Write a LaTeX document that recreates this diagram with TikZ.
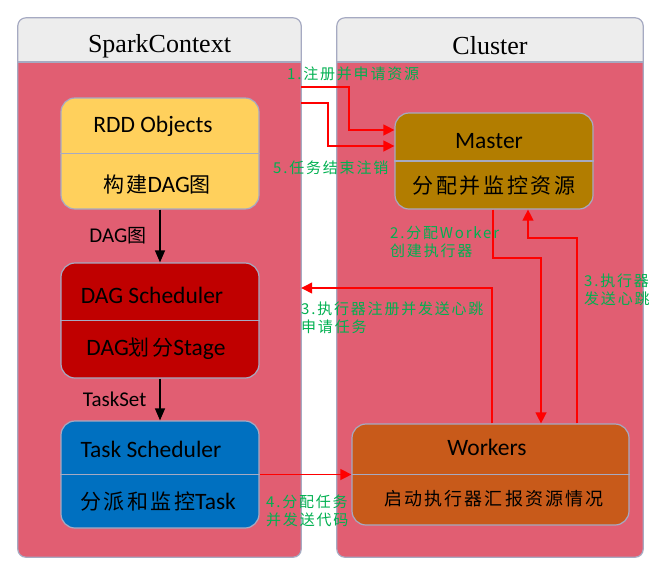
\documentclass[tikz,border=0pt]{standalone}
\usepackage{fontspec}
\setmainfont{Carlito}
\newfontfamily\cjk[LetterSpace=12]{Noto Sans CJK SC}
\newfontfamily\headfont{Liberation Serif}
\newcommand\zh[1]{{\cjk\fontsize{21}{21}\selectfont #1}}
\usetikzlibrary{arrows.meta, positioning}
\definecolor{panelpink}{HTML}{E15E72}
\definecolor{headgray}{HTML}{EDEDED}
\definecolor{edgegray}{HTML}{A6AAC2}
\definecolor{rddyellow}{HTML}{FFD05C}
\definecolor{dagred}{HTML}{C00000}
\definecolor{taskblue}{HTML}{0070C0}
\definecolor{mastergold}{HTML}{B27D00}
\definecolor{workorange}{HTML}{C85A1A}
\definecolor{notegreen}{HTML}{00B050}
\tikzstyle{panel} = [rectangle, rounded corners=8pt, minimum height=539pt, fill=panelpink, inner sep=0]
\tikzstyle{headtext} = [font=\headfont\fontsize{26}{26}\selectfont]
\tikzstyle{stage} = [rectangle, rounded corners=14pt, draw=edgegray, line width=1.2pt, inner sep=0]
\tikzstyle{divider} = [draw=edgegray, line width=1.2pt]
\tikzstyle{boxtext} = [font=\fontsize{23.5}{23.5}\selectfont]
\tikzstyle{boxsub} = [font=\fontsize{23.5}{23.5}\selectfont]
\tikzstyle{flowlabel} = [font=\fontsize{21}{21}\selectfont, inner sep=0]
\tikzstyle{note} = [text=notegreen, font=\cjk\fontsize{15}{18}\selectfont, align=left, anchor=west, inner sep=0]
\tikzstyle{flowarrow} = [line width=1.3pt, -{Triangle[length=12pt,width=10pt]}]
\tikzstyle{redarrow} = [draw=red, line width=1.3pt, -{Triangle[length=11pt,width=11pt]}]

\begin{document}
\begin{tikzpicture}[x=1pt, y=-1pt]
\useasboundingbox (0,0) rectangle (660,571);
% panels
\node (spark) [panel, minimum width=283pt] at (159.5,287.5) {};
\node (cluster) [panel, minimum width=306pt] at (490,287.5) {};
\coordinate (headline) at (0,62);
\begin{scope}
\clip[rounded corners=8pt] (spark.north west) rectangle (spark.south east);
\fill[headgray] (spark.north west) rectangle (spark.east |- headline);
\end{scope}
\begin{scope}
\clip[rounded corners=8pt] (cluster.north west) rectangle (cluster.south east);
\fill[headgray] (cluster.north west) rectangle (cluster.east |- headline);
\end{scope}
\draw[divider, rounded corners=8pt] (spark.north west) rectangle (spark.south east);
\draw[divider, rounded corners=8pt] (cluster.north west) rectangle (cluster.south east);
\draw[divider] (spark.west |- headline) -- (spark.east |- headline);
\draw[divider] (cluster.west |- headline) -- (cluster.east |- headline);
\node (sparktitle) [headtext] at (159.5,46) {SparkContext};
\node (clustertitle) [headtext] at (490,46) {Cluster};

% stages in SparkContext
\node (rdd) [stage, fill=rddyellow, minimum width=198pt, minimum height=111pt] at (160,153.5) {};
\draw[divider] (rdd.west) -- (rdd.east);
\node (rddname) [boxtext] at (153,126) {RDD Objects};
\node (rddjob) [boxsub] at (157,185) {\zh{构建}DAG\zh{图}};

\node (dag) [stage, fill=dagred, minimum width=198pt, minimum height=115pt] at (160,320.5) {};
\draw[divider] (dag.west) -- (dag.east);
\node (dagname) [boxtext] at (152,295) {DAG Scheduler};
\node (dagjob) [boxsub] at (156,349) {DAG\zh{划分}Stage};

\node (task) [stage, fill=taskblue, minimum width=198pt, minimum height=107pt] at (160,474.5) {};
\draw[divider] (task.west) -- (task.east);
\node (taskname) [boxtext] at (151,449) {Task Scheduler};
\node (taskjob) [boxsub] at (158,502) {\zh{分派和监控}Task};

% Cluster side
\node (master) [stage, fill=mastergold, minimum width=198pt, minimum height=96pt] at (494,161) {};
\draw[divider] (master.west) -- (master.east);
\node (mastername) [boxtext] at (489,141) {Master};
\node (masterjob) at (494,186) {\zh{分配并监控资源}};

\node (workers) [stage, fill=workorange, minimum width=277pt, minimum height=101pt] at (490.5,474.5) {};
\draw[divider] (workers.west) -- (workers.east);
\node (workersname) [boxtext] at (487,447) {Workers};
\node (workersjob) [font=\cjk\fontsize{18}{18}\selectfont] at (494,499) {启动执行器汇报资源情况};

% black flow
\draw[flowarrow] (rdd.south) -- node[flowlabel, left=13pt] {DAG{\cjk\fontsize{19}{19}\selectfont 图}} (dag.north);
\draw[flowarrow] (dag.south) -- node[flowlabel, left=13pt] {TaskSet} (task.north);

% red messages
\coordinate (regA) at (349,87);
\coordinate (regB) at (349,130);
\draw[redarrow] (spark.east |- regA) -- (regA) -- (regB) -- (master.west |- regB);
\coordinate (endA) at (328,103);
\coordinate (endB) at (328,146);
\draw[redarrow] (spark.east |- endA) -- (endA) -- (endB) -- (master.west |- endB);
\coordinate (asgA) at (493,258);
\coordinate (asgB) at (541,258);
\draw[redarrow] (master.south -| asgA) -- (asgA) -- (asgB) -- (workers.north -| asgB);
\coordinate (beatA) at (577,238);
\coordinate (beatB) at (528,238);
\draw[redarrow] (workers.north -| beatA) -- (beatA) -- (beatB) -- (master.south -| beatB);
\coordinate (exeA) at (492,288);
\draw[redarrow] (workers.north -| exeA) -- (exeA) -- (spark.east |- exeA);
\draw[redarrow] (task.east) -- (workers.west);

% green notes
\node (note1) [note] at (287,74) {1.注册并申请资源};
\node (note5) [note] at (273,168) {5.任务结束注销};
\node (note2) [note] at (390,242) {2.分配Worker\\创建执行器};
\node (note3a) [note] at (584,290) {3.执行器\\发送心跳};
\node (note3b) [note] at (301,318) {3.执行器注册并发送心跳\\申请任务};
\node (note4) [note] at (266,511) {4.分配任务\\并发送代码};
\end{tikzpicture}
\end{document}
